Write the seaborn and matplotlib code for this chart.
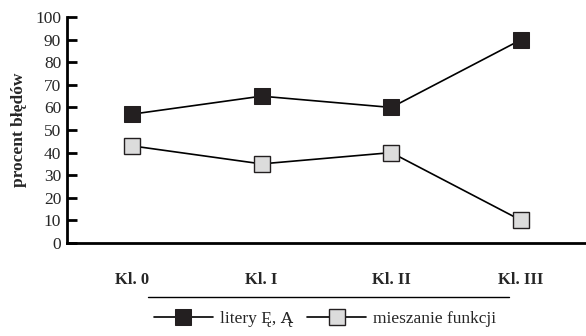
import matplotlib
matplotlib.use("Agg")
import matplotlib.pyplot as plt
import seaborn as sns
import pandas as pd
from matplotlib.lines import Line2D

categories = ["Kl. 0", "Kl. I", "Kl. II", "Kl. III"]
litery = [57, 65, 60, 90]
mieszanie = [43, 35, 40, 10]
series_names = ["litery Ę, Ą", "mieszanie funkcji"]
yticks = [0, 10, 20, 30, 40, 50, 60, 70, 80, 90, 100]

sns.set_style("white")
plt.rcParams["font.family"] = ["Liberation Serif", "DejaVu Serif"]

fig = plt.figure(figsize=(5.86, 3.36), dpi=100)
ax = fig.add_axes([0.114, 0.277, 0.886, 0.672])

df = pd.DataFrame({"x": list(range(len(categories))), "litery": litery, "mieszanie": mieszanie})

sns.lineplot(data=df, x="x", y="litery", ax=ax, color="black", lw=1.2,
             marker="s", markersize=11.5, markerfacecolor="#231f20",
             markeredgecolor="#231f20", label=series_names[0])
sns.lineplot(data=df, x="x", y="mieszanie", ax=ax, color="black", lw=1.2,
             marker="s", markersize=11.5, markerfacecolor="#dcdcdc",
             markeredgecolor="#231f20", markeredgewidth=1.0, label=series_names[1])

ax.set_xlim(-0.5, 3.5)
ax.set_ylim(0, 100)
ax.set_yticks(yticks)
ax.set_yticklabels([str(v) for v in yticks], fontsize=12.5)
ax.set_xticks(range(len(categories)))
ax.set_xticklabels(categories, fontsize=12, fontweight="bold")
ax.tick_params(axis="x", which="major", length=0, pad=21)
ax.set_xticks([0.5, 1.5, 2.5], minor=True)
ax.tick_params(axis="x", which="minor", direction="in", length=6, width=2, color="black")
ax.tick_params(axis="y", direction="in", length=7, width=2, color="black", pad=4, left=True)
ax.set_xlabel("")
ax.set_ylabel("procent błędów", fontsize=12.5, fontweight="bold", labelpad=6)

for s in ["top", "right"]:
    ax.spines[s].set_visible(False)
for s in ["left", "bottom"]:
    ax.spines[s].set_linewidth(2)
    ax.spines[s].set_color("black")

fig.add_artist(Line2D([148/586, 509/586], [1 - 297/336, 1 - 297/336],
                      color="black", lw=1.0, transform=fig.transFigure))

ax.legend(loc="center", bbox_to_anchor=(325/586, 1 - 319/336), bbox_transform=fig.transFigure,
          ncol=2, frameon=False, fontsize=12.5, handlelength=3.4, columnspacing=0.8,
          handletextpad=0.4)

fig.savefig("out.png", dpi=100)
